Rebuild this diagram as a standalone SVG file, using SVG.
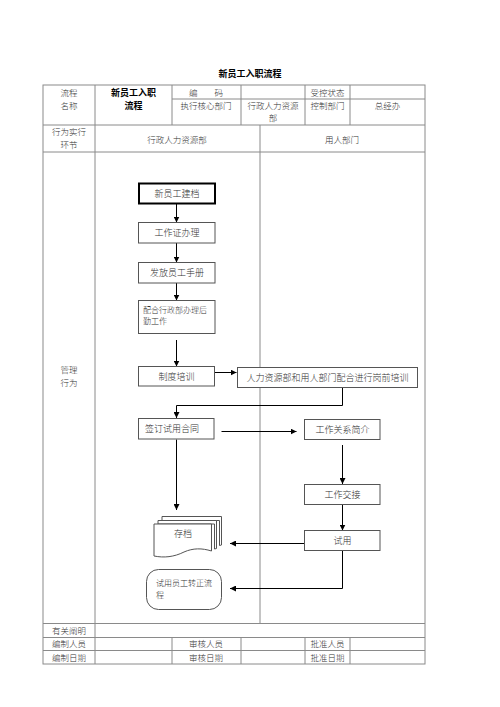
<svg xmlns="http://www.w3.org/2000/svg" width="500" height="707" viewBox="0 0 500 707">
<defs>
<style>
.g{stroke:#8a8a8a;stroke-width:1;fill:none}
.t{font-family:"Noto Sans CJK SC","Liberation Serif",serif;font-size:8.5px;fill:#333;font-weight:300}
.m{text-anchor:middle}
.b{font-weight:bold;fill:#000;font-size:9px}
.box{fill:#fff;stroke:#555;stroke-width:1}
.ln{stroke:#000;stroke-width:1;fill:none}
.ft{font-family:"Noto Sans CJK SC","Liberation Serif",serif;font-size:9px;fill:#333;font-weight:300}
</style>
<marker id="a" viewBox="0 0 10 10" refX="10" refY="5" markerWidth="6" markerHeight="6" orient="auto" markerUnits="userSpaceOnUse">
<path d="M0,0 L10,5 L0,10 z" fill="#000"/>
</marker>
</defs>
<rect width="500" height="707" fill="#fff"/>
<text class="t m b" x="250" y="77">新员工入职流程</text>
<g id="table">
<rect class="g" x="43" y="85" width="382" height="579"/>
<line class="g" x1="95" y1="85" x2="95" y2="664"/>
<line class="g" x1="172" y1="85" x2="172" y2="125"/>
<line class="g" x1="241" y1="85" x2="241" y2="125"/>
<line class="g" x1="305" y1="85" x2="305" y2="125"/>
<line class="g" x1="350" y1="85" x2="350" y2="125"/>
<line class="g" x1="172" y1="99" x2="425" y2="99"/>
<line class="g" x1="43" y1="125" x2="425" y2="125"/>
<line class="g" x1="43" y1="152" x2="425" y2="152"/>
<line class="g" x1="260" y1="125" x2="260" y2="623.5"/>
<line class="g" x1="43" y1="623.5" x2="425" y2="623.5"/>
<line class="g" x1="43" y1="637.5" x2="425" y2="637.5"/>
<line class="g" x1="43" y1="650.5" x2="425" y2="650.5"/>
<line class="g" x1="172" y1="637.5" x2="172" y2="664"/>
<line class="g" x1="241" y1="637.5" x2="241" y2="664"/>
<line class="g" x1="305" y1="637.5" x2="305" y2="664"/>
<line class="g" x1="350" y1="637.5" x2="350" y2="664"/>
<text class="t m" x="69" y="96">流程</text>
<text class="t m" x="69" y="108.5">名称</text>
<text class="t m b" x="133.5" y="96">新员工入职</text>
<text class="t m b" x="133.5" y="108.5">流程</text>
<text class="t m" x="206" y="96" xml:space="preserve">编　　码</text>
<text class="t m" x="327.5" y="96">受控状态</text>
<text class="t m" x="206" y="108.5">执行核心部门</text>
<text class="t m" x="273" y="108.5">行政人力资源</text>
<text class="t m" x="273" y="121">部</text>
<text class="t m" x="327.5" y="108.5">控制部门</text>
<text class="t m" x="387.5" y="108.5">总经办</text>
<text class="t m" x="69" y="135">行为实行</text>
<text class="t m" x="69" y="148">环节</text>
<text class="t m" x="177" y="142.5">行政人力资源部</text>
<text class="t m" x="342" y="142.5">用人部门</text>
<text class="t m" x="69" y="373">管理</text>
<text class="t m" x="69" y="386">行为</text>
<text class="t m" x="69" y="634">有关阐明</text>
<text class="t m" x="69" y="647">编制人员</text>
<text class="t m" x="206" y="647">审核人员</text>
<text class="t m" x="327.5" y="647">批准人员</text>
<text class="t m" x="69" y="660.5">编制日期</text>
<text class="t m" x="206" y="660.5">审核日期</text>
<text class="t m" x="327.5" y="660.5">批准日期</text>
</g>
<g id="connectors">
<line class="ln" x1="176.5" y1="203.5" x2="176.5" y2="222.5" marker-end="url(#a)"/>
<line class="ln" x1="176.5" y1="243" x2="176.5" y2="262.5" marker-end="url(#a)"/>
<line class="ln" x1="176.5" y1="283" x2="176.5" y2="300.5" marker-end="url(#a)"/>
<line class="ln" x1="176.5" y1="340" x2="176.5" y2="366.5" marker-end="url(#a)"/>
<line class="ln" x1="214.5" y1="372.5" x2="236.5" y2="372.5" marker-end="url(#a)"/>
<polyline class="ln" points="342.5,387.5 342.5,405.5 176.5,405.5 176.5,418" marker-end="url(#a)"/>
<line class="ln" x1="221.5" y1="431.5" x2="296.5" y2="431.5" marker-end="url(#a)"/>
<line class="ln" x1="176.5" y1="439.5" x2="176.5" y2="510" marker-end="url(#a)"/>
<line class="ln" x1="342.5" y1="445" x2="342.5" y2="484" marker-end="url(#a)"/>
<line class="ln" x1="342.5" y1="504.5" x2="342.5" y2="530.5" marker-end="url(#a)"/>
<line class="ln" x1="304.5" y1="543.5" x2="230" y2="543.5" marker-end="url(#a)"/>
<polyline class="ln" points="342.5,551 342.5,588.5 230,588.5" marker-end="url(#a)"/>
</g>
<g id="n1">
<rect x="139" y="183.5" width="76" height="20" fill="#fff" stroke="#000" stroke-width="2"/>
<text class="ft m" x="177" y="197">新员工建档</text>
</g>
<g id="n2">
<rect class="box" x="138.5" y="222.5" width="76.5" height="20.5"/>
<text class="ft m" x="177" y="236">工作证办理</text>
</g>
<g id="n3">
<rect class="box" x="138.5" y="262.5" width="76.5" height="20.5"/>
<text class="ft m" x="177" y="276">发放员工手册</text>
</g>
<g id="n4">
<rect class="box" x="138.5" y="300.5" width="76.5" height="33"/>
<text class="t" x="143" y="313" style="font-size:8px">配合行政部办理后</text>
<text class="t" x="143" y="324" style="font-size:8px">勤工作</text>
</g>
<g id="n5">
<rect class="box" x="138.5" y="366.5" width="76" height="19.5"/>
<text class="ft m" x="176.5" y="379.5">制度培训</text>
</g>
<g id="n6">
<rect class="box" x="237.5" y="367.5" width="180" height="20"/>
<text class="ft m" x="327.5" y="381">人力资源部和用人部门配合进行岗前培训</text>
</g>
<g id="n7">
<rect class="box" x="138.5" y="418.5" width="75.5" height="20.5"/>
<text class="ft" x="145" y="432">签订试用合同</text>
</g>
<g id="n8">
<rect class="box" x="304.5" y="419.5" width="75.5" height="20"/>
<text class="ft m" x="342.5" y="433">工作关系简介</text>
</g>
<g id="n9">
<rect class="box" x="304.5" y="484.5" width="75.5" height="20"/>
<text class="ft m" x="342.5" y="498">工作交接</text>
</g>
<g id="n10">
<rect class="box" x="304.5" y="530.5" width="75.5" height="20"/>
<text class="ft m" x="342.5" y="544">试用</text>
</g>
<g id="n11">
<path class="box" d="M162,516.5 L221.5,516.5 L221.5,545 L219.5,545.5 L219.5,520.5 L162,520.5 Z"/>
<path class="box" d="M158,520.5 L216.5,520.5 L216.5,548.5 L214.5,549 L214.5,524 L158,524 Z"/>
<path class="box" d="M154,524 L211.5,524 L211.5,551 C202,548 193,548 184,552 C174,557 164,558 154,556 Z"/>
<text class="ft m" x="183" y="537">存档</text>
</g>
<g id="n12">
<rect class="box" x="146.5" y="569.5" width="75" height="40" rx="12" ry="12"/>
<text class="t" x="156" y="586" style="font-size:8px">试用员工转正流</text>
<text class="t" x="156" y="598" style="font-size:8px">程</text>
</g>
</svg>
